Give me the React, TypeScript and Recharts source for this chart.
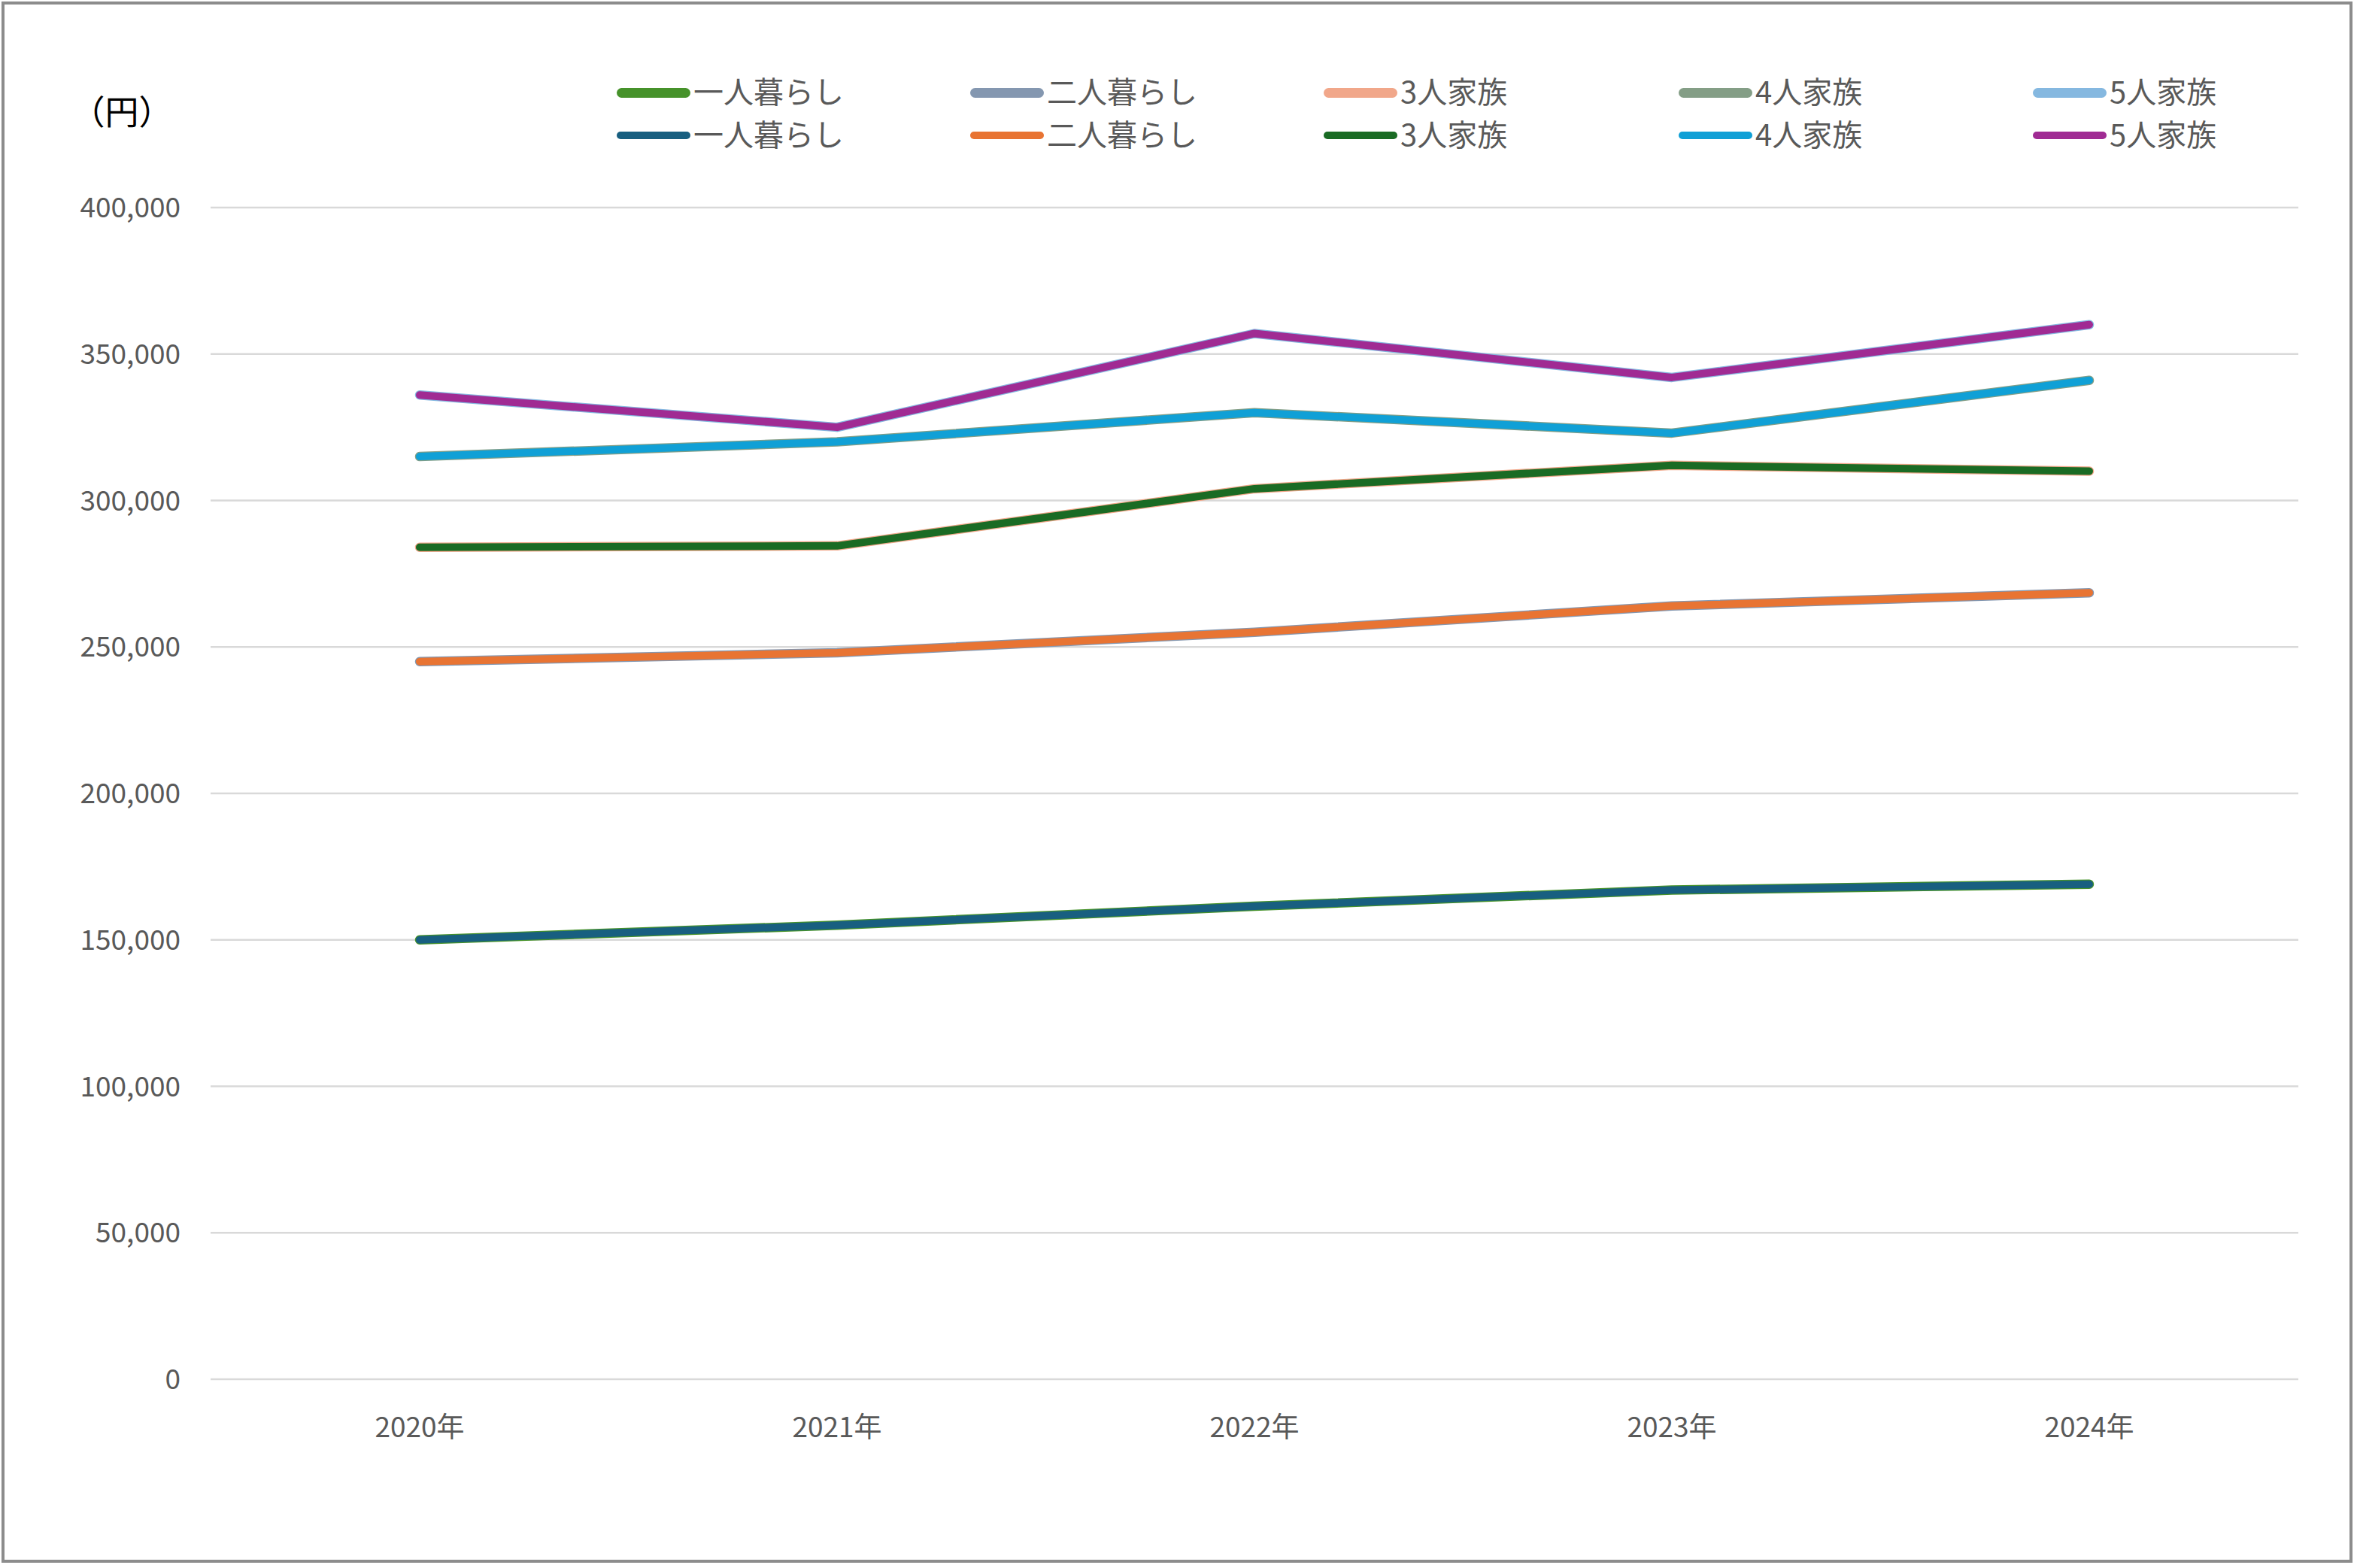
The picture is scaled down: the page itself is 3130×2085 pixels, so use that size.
import React from 'react';
import { LineChart, Line, XAxis, YAxis, CartesianGrid, Legend } from 'recharts';

const years = ['2020年', '2021年', '2022年', '2023年', '2024年'];
const single = [150000, 155000, 161500, 167000, 169000];
const couple = [245000, 248000, 255000, 264000, 268500];
const family3 = [284000, 284500, 304000, 312000, 310000];
const family4 = [315000, 320000, 330000, 323000, 341000];
const family5 = [336000, 325000, 357000, 342000, 360000];
const yTicks = [0, 50000, 100000, 150000, 200000, 250000, 300000, 350000, 400000];

const seriesNames = ['一人暮らし', '二人暮らし', '3人家族', '4人家族', '5人家族'];
const seriesValues = [single, couple, family3, family4, family5];
const lightColors = ['#46922A', '#8497B0', '#F1A78A', '#849E86', '#85B8E0'];
const darkColors = ['#185F80', '#E87433', '#1A6B24', '#10A0D6', '#A02B93'];

const data = years.map((y, i) => {
  const row: Record<string, string | number> = { year: y };
  seriesValues.forEach((arr, k) => {
    row[`a${k}`] = arr[i];
    row[`b${k}`] = arr[i];
  });
  return row;
});

const FONT = '"Noto Sans CJK JP", "Noto Sans", sans-serif';
const TEXT = '#595959';

const legendCols = [820, 1290, 1760, 2232, 2703];
const legendRows = [123, 180];

const renderLegend = (props: any) => {
  const payload = props.payload || [];
  return (
    <div style={{ position: 'relative', width: 0, height: 0 }}>
      {payload.map((entry: any, i: number) => {
        const key = String(entry.dataKey ?? '');
        const row = key.startsWith('a') ? 0 : 1;
        const col = parseInt(key.slice(1), 10) || 0;
        const thick = row === 0 ? 13 : 10;
        return (
          <div
            key={i}
            style={{
              position: 'absolute',
              left: legendCols[col],
              top: legendRows[row] - 25,
              height: 50,
              display: 'flex',
              alignItems: 'center',
              whiteSpace: 'nowrap',
            }}
          >
            <div
              style={{
                width: 98,
                height: thick,
                borderRadius: thick / 2,
                background: entry.color,
                marginRight: 4,
              }}
            />
            <span
              style={{
                position: 'relative',
                top: -3,
                fontFamily: FONT,
                fontSize: 40,
                color: TEXT,
                lineHeight: '50px',
              }}
            >
              {entry.value}
            </span>
          </div>
        );
      })}
    </div>
  );
};

export default function App() {
  return (
    <div style={{ position: 'absolute', left: 0, top: 0, width: 3130, height: 2085, background: '#fff' }}>
      <div
        style={{
          position: 'absolute',
          left: 2,
          top: 2,
          width: 3126,
          height: 2076,
          border: '4px solid #8C8C8C',
          boxSizing: 'border-box',
        }}
      />
      <div
        style={{
          position: 'absolute',
          left: 162,
          top: 146,
          transform: 'translate(-50%, -50%)',
          fontFamily: FONT,
          fontSize: 45,
          color: '#000',
          whiteSpace: 'nowrap',
        }}
      >
        （円）
      </div>
      <div style={{ position: 'absolute', left: 0, top: 0 }}>
        <LineChart
          width={3130}
          height={2085}
          data={data}
          margin={{ top: 276, right: 74, bottom: 191, left: 0 }}
        >
          <CartesianGrid vertical={false} stroke="#D9D9D9" strokeWidth={2.5} />
          <XAxis
            dataKey="year"
            height={60}
            padding={{ left: 278, right: 278 }}
            axisLine={false}
            tickLine={false}
            tickSize={0}
            tickMargin={51}
            tick={{ fontFamily: FONT, fontSize: 37, fill: TEXT }}
            interval={0}
          />
          <YAxis
            width={280}
            domain={[0, 400000]}
            ticks={yTicks}
            axisLine={false}
            tickLine={false}
            tickSize={0}
            tickMargin={40}
            tick={{ fontFamily: FONT, fontSize: 37, fill: TEXT }}
            tickFormatter={(v: number) => v.toLocaleString('en-US')}
          />
          <Legend
            content={renderLegend}
            wrapperStyle={{ left: 0, top: 0, width: 0, height: 0 }}
          />
          {seriesNames.map((name, k) => (
            <Line
              key={`a${k}`}
              type="linear"
              dataKey={`a${k}`}
              name={name}
              stroke={lightColors[k]}
              strokeWidth={12.5}
              strokeLinecap="round"
              strokeLinejoin="round"
              dot={false}
              activeDot={false}
              isAnimationActive={false}
            />
          ))}
          {seriesNames.map((name, k) => (
            <Line
              key={`b${k}`}
              type="linear"
              dataKey={`b${k}`}
              name={name}
              stroke={darkColors[k]}
              strokeWidth={10}
              strokeLinecap="round"
              strokeLinejoin="round"
              dot={false}
              activeDot={false}
              isAnimationActive={false}
            />
          ))}
        </LineChart>
      </div>
    </div>
  );
}
